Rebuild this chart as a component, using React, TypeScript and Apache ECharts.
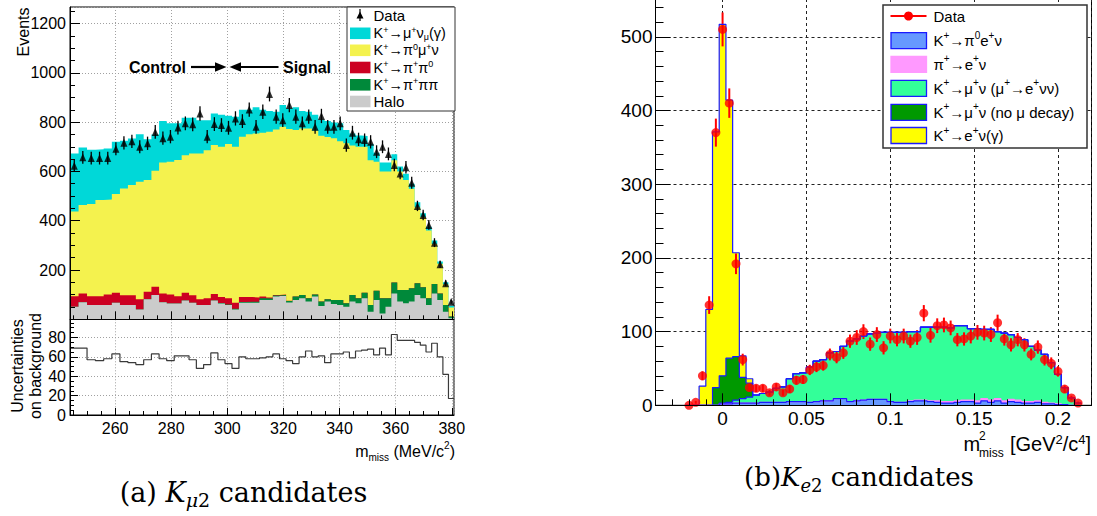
import React, { useEffect, useRef } from 'react';
import * as echarts from 'echarts';

const SANS = "'Liberation Sans', Arial, Helvetica, sans-serif";
const SERIF = "'DejaVu Serif', 'Liberation Serif', serif";

// ---------------- (a) K_mu2 candidates ----------------
// bins are uniform in m^2 (MeV^2) and drawn against m_miss (MeV)
const KMU2_M2_FIRST_EDGE = 59500;
const KMU2_M2_BIN_WIDTH = 1500;

const kmu2Data = [623, 657, 654, 654, 654, 692, 716, 722, 700, 714, 760, 735, 741, 778, 795, 791, 835, 741, 792, 788, 777, 815, 804, 851, 781, 842, 914, 822, 808, 869, 822, 795, 822, 781, 825, 781, 781, 795, 707, 757, 730, 727, 720, 680, 700, 671, 626, 592, 617, 554, 460, 423, 383, 311, 223, 146, 71];
const kmu2DataErr = [25, 26, 26, 26, 26, 26, 27, 27, 26, 27, 28, 27, 27, 28, 28, 28, 29, 27, 28, 28, 28, 29, 28, 29, 28, 29, 30, 29, 28, 29, 29, 28, 29, 28, 29, 28, 28, 28, 27, 28, 27, 27, 27, 26, 26, 26, 25, 24, 25, 24, 21, 21, 20, 18, 15, 12, 8];
const kmu2Halo = [51, 69, 58, 58, 58, 67, 58, 58, 40, 81, 99, 69, 64, 64, 76, 67, 58, 58, 76, 64, 58, 40, 67, 67, 67, 78, 78, 92, 95, 68, 78, 85, 72, 92, 54, 72, 62, 58, 51, 72, 65, 85, 31, 78, 24, 51, 105, 72, 65, 72, 99, 85, 58, 105, 78, 31, 4];
const kmu2PiPiPi = [0, 0, 0, 0, 0, 0, 0, 0, 0, 0, 0, 0, 0, 0, 0, 0, 0, 0, 0, 2, 2, 3, 3, 4, 4, 7, 6, 5, 4, 6, 14, 14, 13, 9, 18, 9, 16, 20, 14, 27, 20, 23, 27, 38, 61, 34, 44, 47, 54, 54, 47, 45, 27, 38, 27, 27, 7];
const kmu2PiPi0 = [43, 36, 36, 36, 43, 41, 40, 40, 41, 31, 33, 36, 37, 30, 32, 31, 23, 27, 27, 24, 25, 24, 20, 19, 17, 7, 4, 2, 2, 1, 1, 0, 0, 0, 0, 0, 0, 0, 0, 0, 0, 0, 0, 0, 0, 0, 0, 0, 0, 0, 0, 0, 0, 0, 0, 0, 0];
const kmu2Pi0MuNu = [343, 359, 374, 390, 385, 400, 433, 447, 477, 453, 471, 531, 538, 552, 558, 575, 592, 601, 604, 610, 626, 633, 651, 661, 666, 665, 673, 671, 680, 697, 675, 675, 689, 664, 673, 659, 657, 644, 649, 606, 615, 592, 587, 523, 515, 515, 496, 481, 446, 404, 309, 285, 275, 162, 120, 84, 37];
const kmu2MuNu = [236, 233, 220, 206, 207, 212, 193, 189, 193, 165, 147, 169, 156, 149, 152, 145, 135, 122, 128, 130, 115, 122, 109, 99, 106, 93, 84, 72, 88, 83, 92, 71, 68, 65, 65, 65, 63, 73, 54, 49, 46, 44, 66, 37, 36, 36, 25, 20, 25, 20, 20, 15, 15, 15, 10, 8, 7];
const kmu2BkgUncertainty = [69, 69, 57, 56, 58, 63, 55, 54, 52, 57, 63, 58, 56, 61, 61, 57, 48, 52, 64, 57, 53, 48, 60, 58, 58, 59, 60, 63, 58, 56, 53, 60, 66, 60, 61, 54, 63, 63, 65, 59, 66, 67, 68, 62, 69, 62, 83, 77, 77, 77, 75, 72, 65, 74, 60, 42, 17];

const kmu2XTicks = [260, 280, 300, 320, 340, 360, 380];
const kmu2YTicks = [200, 400, 600, 800, 1000, 1200];
const uncYTicks = [0, 20, 40, 60, 80];

// ---------------- (b) K_e2 candidates ----------------
const KE2_FIRST_CENTER = -0.02;
const KE2_BIN_WIDTH = 0.004;

const ke2Data = [0, 4, 40, 136, 370, 510, 410, 192, 62, 24, 23, 23, 17, 25, 17, 22, 34, 35, 48, 52, 54, 69, 65, 71, 87, 92, 100, 83, 96, 78, 94, 89, 94, 87, 92, 125, 95, 108, 109, 105, 89, 90, 94, 99, 98, 96, 112, 90, 82, 89, 82, 69, 79, 62, 57, 46, 22, 10, 3];
const ke2DataErr = [1, 2, 6, 12, 19, 23, 20, 14, 8, 5, 5, 5, 4, 5, 4, 5, 6, 6, 7, 7, 7, 8, 8, 8, 9, 10, 10, 9, 10, 9, 10, 9, 10, 9, 10, 11, 10, 10, 10, 10, 9, 9, 10, 10, 10, 10, 11, 9, 9, 9, 9, 8, 9, 8, 8, 7, 5, 3, 2];
const ke2Pi0ENu = [0, 0, 0, 0, 0, 2, 2, 3, 3, 3, 3, 4, 4, 4, 4, 5, 5, 5, 4, 5, 6, 6, 9, 9, 5, 6, 7, 8, 8, 8, 5, 4, 4, 5, 6, 6, 5, 4, 3, 3, 4, 5, 5, 3, 6, 4, 6, 3, 5, 4, 3, 3, 4, 2, 2, 1, 1, 0, 0];
const ke2PiENu = [0, 0, 0, 0, 0, 0, 0, 0, 0, 0, 0, 0, 0, 0, 0, 0, 0, 0, 0, 0, 0, 0, 0, 0, 0, 0, 0, 0, 0, 0, 0, 0, 0, 1, 1, 1, 1, 2, 2, 2, 2, 2, 2, 3, 3, 3, 3, 3, 3, 3, 2, 2, 2, 2, 1, 1, 0, 0, 0];
const ke2MuNuMuDecay = [0, 0, 0, 0, 0, 1, 2, 4, 6, 8, 11, 12, 14, 19, 21, 31, 38, 39, 48, 55, 56, 65, 64, 71, 82, 84, 87, 89, 90, 91, 94, 95, 95, 94, 93, 99, 100, 100, 101, 100, 102, 101, 97, 98, 94, 96, 91, 92, 88, 85, 84, 75, 69, 65, 55, 40, 23, 10, 3];
const ke2MuNuNoDecay = [0, 0, 0, 0, 24, 37, 60, 59, 29, 19, 0, 0, 0, 0, 0, 0, 0, 0, 0, 0, 0, 0, 0, 0, 0, 0, 0, 0, 0, 0, 0, 0, 0, 0, 0, 0, 0, 0, 0, 0, 0, 0, 0, 0, 0, 0, 0, 0, 0, 0, 0, 0, 0, 0, 0, 0, 0, 0, 0];
const ke2ENu = [0, 1, 26, 130, 347, 477, 350, 141, 29, 6, 0, 0, 0, 0, 0, 0, 0, 0, 0, 0, 0, 0, 0, 0, 0, 0, 0, 0, 0, 0, 0, 0, 0, 0, 0, 0, 0, 0, 0, 0, 0, 0, 0, 0, 0, 0, 0, 0, 0, 0, 0, 0, 0, 0, 0, 0, 0, 0, 0];

const ke2XTicks = [0, 0.05, 0.1, 0.15, 0.2];
const ke2YTicks = [0, 100, 200, 300, 400, 500];

// ---------------- helpers ----------------
const kmu2Edges = Array.from({ length: kmu2Data.length + 1 }, (_, j) => Math.sqrt(KMU2_M2_FIRST_EDGE + KMU2_M2_BIN_WIDTH * j));
const kmu2Centers = kmu2Data.map((_, i) => (kmu2Edges[i] + kmu2Edges[i + 1]) / 2);
const ke2Edges = Array.from({ length: ke2Data.length + 1 }, (_, j) => KE2_FIRST_CENTER - KE2_BIN_WIDTH / 2 + KE2_BIN_WIDTH * j);
const ke2Centers = ke2Data.map((_, i) => KE2_FIRST_CENTER + KE2_BIN_WIDTH * i);

function stepData(edges: number[], vals: number[]) {
  const d = vals.map((v, i) => [edges[i], v]);
  d.push([edges[vals.length], vals[vals.length - 1]]);
  return d;
}
function cumulative(...arrs: number[][]) {
  return arrs[0].map((_, i) => arrs.reduce((s, a) => s + a[i], 0));
}
function minorValues(lo: number, hi: number, step: number, majorStep: number) {
  const out: number[] = [];
  for (let i = Math.ceil(lo / step - 1e-9); i * step <= hi + 1e-9; i++) {
    const v = +(i * step).toFixed(6);
    const r = v / majorStep;
    if (Math.abs(r - Math.round(r)) > 1e-6) out.push(v);
  }
  return out;
}

const Z_ALL = 5;

function hist(edges: number[], vals: number[], fill: string, stroke: string | null, ax: number) {
  return {
    type: 'line', xAxisIndex: ax, yAxisIndex: ax, data: stepData(edges, vals), step: 'end',
    symbol: 'none', showSymbol: false, silent: true, z: Z_ALL,
    lineStyle: stroke ? { color: stroke, width: 1.2 } : { width: 0, opacity: 0 },
    areaStyle: { color: fill, opacity: 1 }, itemStyle: { color: fill },
  };
}
function errBars(centers: number[], vals: number[], errs: number[], color: string, width: number, ax: number) {
  return {
    type: 'custom', xAxisIndex: ax, yAxisIndex: ax, silent: true, z: Z_ALL, clip: false,
    data: centers.map((x, i) => [x, vals[i] - errs[i], x, vals[i] + errs[i]]),
    encode: { x: [0, 2], y: [1, 3] },
    renderItem: (params: any, api: any) => {
      const a = api.coord([api.value(0), api.value(1)]);
      const b = api.coord([api.value(2), api.value(3)]);
      return { type: 'line', shape: { x1: a[0], y1: a[1], x2: b[0], y2: b[1] }, style: { stroke: color, lineWidth: width } };
    },
  };
}

// per grid and direction: [0] grid-line axis (plain nice ticks, split lines only),
// [1] label axis, [2] major ticks + axis line, [3] minor ticks
function axisSet(kind: 'x' | 'y', grid: number, min: number, max: number, gridOpts: any, gridLine: any,
  labelVals: number[] | null, labelSize: number, labelMargin: number, tickVals: number[], minors: number[], majorLen: number, minorLen: number) {
  const base: any = { type: 'value', gridIndex: grid, min, max, position: kind === 'x' ? 'bottom' : 'left' };
  return [
    {
      ...base, ...gridOpts, z: 0,
      axisLine: { show: false, onZero: false }, axisTick: { show: false }, axisLabel: { show: false },
      splitLine: { show: true, lineStyle: gridLine },
    },
    {
      ...base, z: 0,
      axisLine: { show: false, onZero: false }, axisTick: { show: false },
      axisLabel: labelVals ? {
        show: true, customValues: labelVals, margin: labelMargin, fontFamily: SANS, fontSize: labelSize, color: '#000',
        hideOverlap: false, formatter: (v: number) => String(v),
      } : { show: false },
      splitLine: { show: false },
    },
    {
      ...base, z: 20,
      axisLine: { show: true, onZero: false, lineStyle: { color: '#000', width: 1 } },
      axisTick: { show: true, inside: true, length: majorLen, customValues: tickVals, lineStyle: { color: '#000', width: 1 } },
      axisLabel: { show: false }, splitLine: { show: false },
    },
    {
      ...base, z: 20,
      axisLine: { show: false, onZero: false },
      axisTick: { show: true, inside: true, length: minorLen, customValues: minors, lineStyle: { color: '#000', width: 1 } },
      axisLabel: { show: false }, splitLine: { show: false },
    },
  ];
}

const KMU2_XMIN = kmu2Edges[0];
const KMU2_XMAX = kmu2Edges[kmu2Edges.length - 1];
const KMU2_YMAX = 1267;
const UNC_YMAX = 98.7;
const KE2_XMIN = -0.04, KE2_XMAX = 0.22, KE2_YMAX = 551.3;
const DOT = { color: '#a0a0a0', width: 1, type: [1, 2] };
const DASH = { color: '#222', width: 1, type: [3, 3] };

function buildOption() {
  const lMinX = minorValues(245, 380, 5, 20);
  const xAxes = [
    ...axisSet('x', 0, KMU2_XMIN, KMU2_XMAX, { splitNumber: 7 }, DOT, null, 16, 4, kmu2XTicks, lMinX, 8, 4),
    ...axisSet('x', 1, KMU2_XMIN, KMU2_XMAX, { splitNumber: 7 }, DOT, kmu2XTicks, 16, 5, kmu2XTicks, lMinX, 7, 4),
    ...axisSet('x', 2, KE2_XMIN, KE2_XMAX, { splitNumber: 5 }, DASH, ke2XTicks, 19, 4, ke2XTicks, minorValues(-0.03, 0.22, 0.01, 0.05), 12, 6),
  ];
  const yAxes = [
    ...axisSet('y', 0, 0, KMU2_YMAX, { interval: 200 }, DOT, kmu2YTicks, 16, 4, kmu2YTicks, minorValues(50, 1250, 50, 200), 10, 5),
    ...axisSet('y', 1, 0, UNC_YMAX, { interval: 20 }, DOT, uncYTicks, 16, 4, uncYTicks, minorValues(5, 95, 5, 20), 8, 4),
    ...axisSet('y', 2, 0, KE2_YMAX, { interval: 100 }, DASH, ke2YTicks, 19, 3, ke2YTicks, minorValues(20, 540, 20, 100), 15, 8),
  ];

  const lGray = kmu2Halo;
  const lGreen = cumulative(kmu2Halo, kmu2PiPiPi);
  const lRed = cumulative(kmu2Halo, kmu2PiPiPi, kmu2PiPi0);
  const lYellow = cumulative(kmu2Halo, kmu2PiPiPi, kmu2PiPi0, kmu2Pi0MuNu);
  const lTotal = cumulative(kmu2Halo, kmu2PiPiPi, kmu2PiPi0, kmu2Pi0MuNu, kmu2MuNu);

  const rBlue = ke2Pi0ENu;
  const rPink = cumulative(ke2Pi0ENu, ke2PiENu);
  const rSpring = cumulative(ke2Pi0ENu, ke2PiENu, ke2MuNuMuDecay);
  const rDark = cumulative(ke2Pi0ENu, ke2PiENu, ke2MuNuMuDecay, ke2MuNuNoDecay);
  const rTotal = cumulative(ke2Pi0ENu, ke2PiENu, ke2MuNuMuDecay, ke2MuNuNoDecay, ke2ENu);

  const C_CYAN = '#00d8d8', C_YEL = '#f4f24e', C_RED = '#cc0022', C_GRN = '#00893a', C_GRAY = '#cbcbcb';
  const R_BLUE = '#6699ff', R_PINK = '#ff99ff', R_SPRING = '#33ff99', R_DARK = '#009900', R_YEL = '#ffff00', R_LINE = '#1a1aff';

  // axis index of each grid's first (grid-line) axis: 0, 4, 8
  const series: any[] = [
    // left top stack
    hist(kmu2Edges, lTotal, C_CYAN, null, 0),
    hist(kmu2Edges, lYellow, C_YEL, null, 0),
    hist(kmu2Edges, lRed, C_RED, null, 0),
    hist(kmu2Edges, lGreen, C_GRN, null, 0),
    hist(kmu2Edges, lGray, C_GRAY, null, 0),
    errBars(kmu2Centers, kmu2Data, kmu2DataErr, '#000', 1.3, 0),
    {
      type: 'scatter', xAxisIndex: 0, yAxisIndex: 0, silent: true, z: Z_ALL + 1,
      symbol: 'triangle', symbolSize: [7, 8], itemStyle: { color: '#000' },
      data: kmu2Centers.map((x, i) => [x, kmu2Data[i]]),
    },
    // left bottom
    {
      type: 'line', xAxisIndex: 4, yAxisIndex: 4, step: 'end', symbol: 'none', silent: true, z: Z_ALL,
      lineStyle: { color: '#3a3a3a', width: 1.2 },
      data: stepData(kmu2Edges, kmu2BkgUncertainty),
    },
    // right
    hist(ke2Edges, rTotal, R_YEL, R_LINE, 8),
    hist(ke2Edges, rDark, R_DARK, R_LINE, 8),
    hist(ke2Edges, rSpring, R_SPRING, R_LINE, 8),
    hist(ke2Edges, rPink, R_PINK, '#ff88ff', 8),
    hist(ke2Edges, rBlue, R_BLUE, R_LINE, 8),
    errBars(ke2Centers, ke2Data, ke2DataErr, '#ff0000', 2, 8),
    {
      type: 'scatter', xAxisIndex: 8, yAxisIndex: 8, silent: true, z: Z_ALL + 1,
      symbol: 'circle', symbolSize: 9, itemStyle: { color: '#ff0000' },
      data: ke2Centers.map((x, i) => [x, ke2Data[i]]),
    },
  ];

  const sansRich = (size: number, lh: number) => {
    const s = Math.round(size * 0.64);
    return {
      n: { fontFamily: SANS, fontSize: size, lineHeight: lh, verticalAlign: 'middle', fill: '#000' },
      p: { fontFamily: SANS, fontSize: s, lineHeight: s, verticalAlign: 'top', fill: '#000' },
      b: { fontFamily: SANS, fontSize: s, lineHeight: s, verticalAlign: 'bottom', fill: '#000' },
    };
  };
  const txt = (x: number, y: number, text: string, size: number, extra: any = {}, lh = size + 6) => ({
    type: 'text', x, y, z: 100,
    style: { text, fill: '#000', fontFamily: SANS, fontSize: size, align: 'left', textAlign: 'left', verticalAlign: 'middle', textVerticalAlign: 'middle', rich: sansRich(size, lh), ...extra },
  });
  const rect = (x: number, y: number, w: number, h: number, fill: string, stroke: string | null, lw = 1) => ({
    type: 'rect', z: 100, shape: { x, y, width: w, height: h }, style: { fill, stroke: stroke || fill, lineWidth: stroke ? lw : 0 },
  });

  const leftLegendY = [15, 33.3, 50.3, 67.5, 84.8, 101.5];
  const rightLegendY = [16, 40.7, 64.3, 88.3, 112.3, 135.5];
  const LLH = 16.5;

  const captionRich = (size: number) => ({
    n: { fontFamily: SERIF, fontSize: size, lineHeight: size + 8, verticalAlign: 'middle' },
    i: { fontFamily: SERIF, fontSize: size, fontStyle: 'italic', lineHeight: size + 8, verticalAlign: 'middle' },
    si: { fontFamily: SERIF, fontSize: Math.round(size * 0.7), fontStyle: 'italic', lineHeight: Math.round(size * 0.7), verticalAlign: 'bottom' },
    s: { fontFamily: SERIF, fontSize: Math.round(size * 0.7), lineHeight: Math.round(size * 0.7), verticalAlign: 'bottom' },
  });

  const graphic: any[] = [
    // left legend
    rect(347, 7, 108, 104, '#fff', '#333', 1),
    { type: 'line', z: 101, shape: { x1: 360, y1: 9, x2: 360, y2: 21 }, style: { stroke: '#000', lineWidth: 1.2 } },
    { type: 'polygon', z: 101, shape: { points: [[356.5, 18.5], [363.5, 18.5], [360, 11.5]] }, style: { fill: '#000' } },
    txt(373.5, leftLegendY[0], 'Data', 15, {}, LLH),
    rect(350, leftLegendY[1] - 5.8, 20.5, 11.6, C_CYAN, null),
    txt(373.5, leftLegendY[1], '{n|K}{p|+}{n|→μ}{p|+}{n|ν}{b|μ}{n|(γ)}', 14.5, {}, LLH),
    rect(350, leftLegendY[2] - 5.8, 20.5, 11.6, C_YEL, null),
    txt(373.5, leftLegendY[2], '{n|K}{p|+}{n|→π}{p|0}{n|μ}{p|+}{n|ν}', 14.5, {}, LLH),
    rect(350, leftLegendY[3] - 5.8, 20.5, 11.6, C_RED, null),
    txt(373.5, leftLegendY[3], '{n|K}{p|+}{n|→π}{p|+}{n|π}{p|0}', 14.5, {}, LLH),
    rect(350, leftLegendY[4] - 5.8, 20.5, 11.6, C_GRN, null),
    txt(373.5, leftLegendY[4], '{n|K}{p|+}{n|→π}{p|+}{n|ππ}', 14.5, {}, LLH),
    rect(350, leftLegendY[5] - 5.8, 20.5, 11.6, C_GRAY, null),
    txt(373.5, leftLegendY[5], 'Halo', 15, {}, LLH),

    // Control / Signal annotation
    txt(129, 67, 'Control', 16, { fontWeight: 'bold', rich: undefined }),
    { type: 'line', z: 101, shape: { x1: 191, y1: 67, x2: 218, y2: 67 }, style: { stroke: '#000', lineWidth: 2.2 } },
    { type: 'polygon', z: 101, shape: { points: [[226.5, 67], [215, 62.3], [215, 71.7]] }, style: { fill: '#000' } },
    { type: 'polygon', z: 101, shape: { points: [[229.5, 67], [241, 62.3], [241, 71.7]] }, style: { fill: '#000' } },
    { type: 'line', z: 101, shape: { x1: 238, y1: 67, x2: 278.5, y2: 67 }, style: { stroke: '#000', lineWidth: 2.2 } },
    txt(283, 67, 'Signal', 16, { fontWeight: 'bold', rich: undefined }),

    // axis titles left
    { type: 'text', z: 100, x: 23.5, y: 7.5, rotation: Math.PI / 2, style: { text: 'Events', fill: '#000', fontFamily: SANS, fontSize: 16, align: 'right', textAlign: 'right', verticalAlign: 'middle', textVerticalAlign: 'middle' } },
    { type: 'text', z: 100, x: 26, y: 366, rotation: Math.PI / 2, style: { text: 'Uncertainties\non background', fill: '#000', fontFamily: SANS, fontSize: 16, lineHeight: 18, align: 'center', textAlign: 'center', verticalAlign: 'middle', textVerticalAlign: 'middle' } },
    txt(455, 451, '{n|m}{b|miss}{n| (MeV/c}{p|2}{n|)}', 16, { align: 'right', textAlign: 'right' }),

    // axis title right
    txt(963.5, 444, 'm', 20, { rich: undefined }),
    txt(979, 435.5, '2', 12, { rich: undefined }),
    txt(979, 453, 'miss', 12, { rich: undefined }),
    txt(1010, 444, '{n|[GeV}{p|2}{n|/c}{p|4}{n|]}', 20, {}, 22),

    // right legend
    rect(883, 5, 204, 143, '#fff', '#333', 1.5),
    { type: 'line', z: 101, shape: { x1: 890.5, y1: rightLegendY[0], x2: 926.5, y2: rightLegendY[0] }, style: { stroke: '#ff0000', lineWidth: 2 } },
    { type: 'circle', z: 102, shape: { cx: 908.5, cy: rightLegendY[0], r: 4.5 }, style: { fill: '#ff0000' } },
    txt(933.5, rightLegendY[0], 'Data', 15),
    rect(891, rightLegendY[1] - 8, 35.5, 16, R_BLUE, R_LINE, 1.3),
    txt(933.5, rightLegendY[1], '{n|K}{p|+}{n|→π}{p|0}{n|e}{p|+}{n|ν}', 15),
    rect(891, rightLegendY[2] - 8, 35.5, 16, R_PINK, '#ff99ff', 1.3),
    txt(933.5, rightLegendY[2], '{n|π}{p|+}{n|→e}{p|+}{n|ν}', 15),
    rect(891, rightLegendY[3] - 8, 35.5, 16, R_SPRING, R_LINE, 1.3),
    txt(933.5, rightLegendY[3], '{n|K}{p|+}{n|→μ}{p|+}{n|ν (μ}{p|+}{n|→e}{p|+}{n|νν)}', 15),
    rect(891, rightLegendY[4] - 8, 35.5, 16, R_DARK, R_LINE, 1.3),
    txt(933.5, rightLegendY[4], '{n|K}{p|+}{n|→μ}{p|+}{n|ν (no μ decay)}', 15),
    rect(891, rightLegendY[5] - 8, 35.5, 16, R_YEL, R_LINE, 1.3),
    txt(933.5, rightLegendY[5], '{n|K}{p|+}{n|→e}{p|+}{n|ν(γ)}', 15),

    // captions
    {
      type: 'text', z: 100, x: 243.5, y: 492,
      style: {
        text: '{n|(a) }{i|K}{si|μ}{s|2}{n| candidates}', align: 'center', textAlign: 'center', verticalAlign: 'middle', textVerticalAlign: 'middle', fill: '#000',
        fontFamily: SERIF, fontSize: 27, rich: captionRich(27),
      },
    },
    {
      type: 'text', z: 100, x: 859, y: 477,
      style: {
        text: '{n|(b)}{i|K}{si|e}{s|2}{n| candidates}', align: 'center', textAlign: 'center', verticalAlign: 'middle', textVerticalAlign: 'middle', fill: '#000',
        fontFamily: SERIF, fontSize: 26, rich: captionRich(26),
      },
    },
  ];

  return {
    animation: false,
    backgroundColor: '#ffffff',
    textStyle: { fontFamily: SANS },
    grid: [
      { left: 70, top: 7, width: 384, height: 312.3, show: true, borderColor: '#000', borderWidth: 1, backgroundColor: 'transparent', containLabel: false, outerBoundsMode: 'none' },
      { left: 70, top: 319.3, width: 384, height: 95.7, show: true, borderColor: '#000', borderWidth: 1, backgroundColor: 'transparent', containLabel: false, outerBoundsMode: 'none' },
      { left: 655.5, top: -1, width: 436, height: 406.3, show: true, borderColor: '#000', borderWidth: 1, backgroundColor: 'transparent', containLabel: false, outerBoundsMode: 'none' },
    ],
    xAxis: xAxes,
    yAxis: yAxes,
    series,
    graphic,
  };
}

export default function App() {
  const ref = useRef<HTMLDivElement>(null);
  useEffect(() => {
    const chart = echarts.init(ref.current as HTMLDivElement, null, { renderer: 'svg' });
    chart.setOption(buildOption() as any);
    return () => chart.dispose();
  }, []);
  return <div ref={ref} style={{ position: 'absolute', left: 0, top: 0, width: 1097, height: 516, background: '#fff' }} />;
}
